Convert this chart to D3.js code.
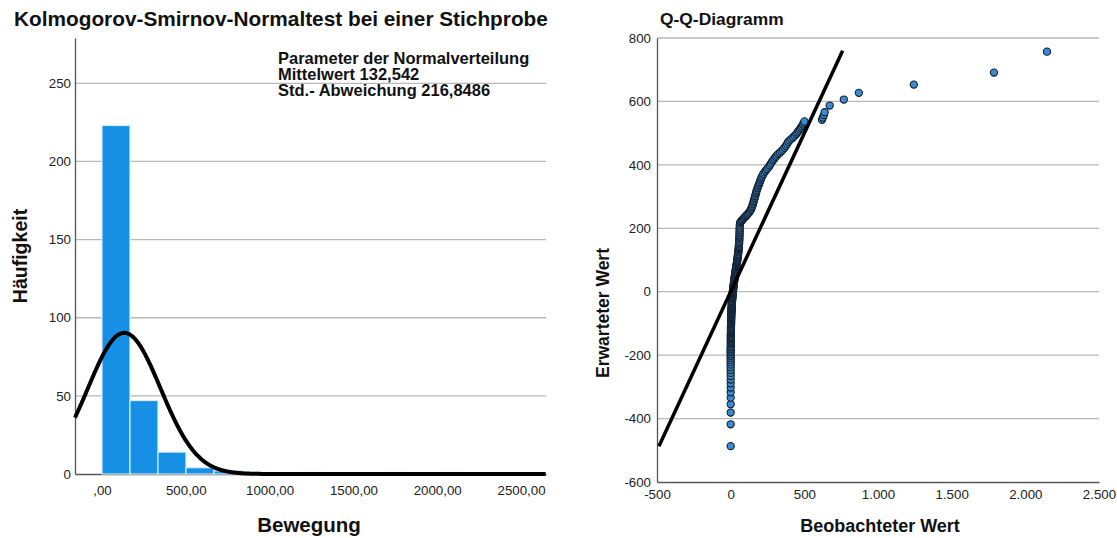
<!DOCTYPE html>
<html>
<head>
<meta charset="utf-8">
<script src="https://cdn.jsdelivr.net/npm/d3@7"></script>
<style>
  body { margin: 0; background: #fff; }
  text { font-family: "Liberation Sans", Arial, sans-serif; fill: #222; }
  .axis path { stroke: #555; stroke-width: 1.3; }
  .axis text { font-size: 13.3px; }
  .title { font-weight: bold; fill: #111; }
</style>
</head>
<body>
<script>
var w = 1117;
var h = 538;

// histogram (Bewegung)
var histCounts = [223, 47, 14, 4, 2, 1, 0, 1, 0, 0, 1, 0, 1];
var binStart = 0;
var binWidth = 167;
var histMean = 132.542;
var histSd = 216.8486;
var histTicksX = [0, 500, 1000, 1500, 2000, 2500];
var histTicksY = [0, 50, 100, 150, 200, 250];

// Q-Q points: observed value (x) and expected normal value (y)
var qqObserved = [
  0, 0, 0, 0, 0, 0, 0, 0, 0, 0, 0, 0, 0, 0, 0, 0, 0, 0, 0, 0, 0, 0, 0,
  1, 1, 1, 1, 1, 1, 1, 1, 1, 1, 2, 2, 2, 2, 2, 2, 2, 2, 3, 3, 3, 3, 3, 3,
  4, 4, 4, 4, 4, 5, 5, 5, 5, 6, 6, 6, 6, 7, 7, 7, 8, 8, 8, 9, 9, 10, 10,
  11, 11, 12, 12, 13, 13, 14, 14, 15, 15, 16, 17, 17, 18, 19, 19, 20, 21,
  21, 22, 23, 23, 24, 25, 26, 26, 27, 28, 29, 30, 30, 31, 32, 33, 34, 35,
  36, 37, 38, 39, 40, 41, 42, 43, 44, 45, 46, 47, 47, 48, 49, 50, 51, 52,
  52, 53, 54, 55, 55, 56, 57, 57, 58, 58, 59, 59, 60, 60, 60, 61, 61, 61,
  62, 62,
  64, 68, 73, 78, 84, 90, 96, 102, 108, 114, 120, 126, 131, 136, 140, 144,
  148, 151, 154, 157, 160, 163, 166, 169, 172, 175, 178, 182, 186, 190,
  194, 198, 202, 206, 210,
  216, 222, 230, 238, 247, 256, 265, 273, 281, 289, 297, 305, 312, 322,
  333, 344, 355, 365, 375, 383, 390, 400, 412, 424, 435, 445, 453, 461,
  469, 477, 484, 490, 496, 501,
  620, 625, 633, 638, 672, 768, 870, 1243, 1787, 2147
];
var qqExpected = [
  -487, -418, -381, -355, -334, -317, -302, -289, -277, -266, -256, -247,
  -238, -230, -223, -216, -209, -203, -197, -191, -186, -181, -176,
  -171, -166, -162, -158, -154, -150, -146, -142, -138, -134, -130, -127,
  -124, -120, -117, -114, -110, -107, -104, -101, -98, -95, -92, -89,
  -86, -83, -80, -77, -74, -71, -68, -65, -63, -60, -57, -54, -52, -49,
  -46, -44, -41, -38, -36, -33, -30, -28, -25,
  -22, -20, -17, -14, -12, -9, -7, -4, -1, 1, 4, 6, 9, 12, 14, 17, 19, 22,
  24, 27, 30, 32, 35, 37, 40, 43, 45, 48, 51, 53, 56, 59, 61, 64, 67, 70,
  72, 75, 78, 81, 84, 87, 90, 93, 96, 99, 102, 105, 108, 111, 114, 117,
  120, 124, 127, 131, 134, 138, 141, 145, 149, 153, 157, 161, 165, 170,
  174, 179, 184, 189, 194, 199, 205, 211,
  217, 220, 223, 226, 229, 232, 235, 238, 241, 244, 247, 250, 254, 258,
  262, 266, 271, 276, 281, 286, 291, 296, 301, 306, 311, 316, 321, 326,
  331, 336, 341, 346, 351, 356, 361,
  366, 371, 377, 382, 387, 392, 398, 404, 410, 415, 420, 425, 429, 434,
  438, 443, 448, 454, 460, 466, 472, 477, 482, 487, 492, 497, 502, 507,
  512, 517, 522, 527, 532, 537,
  542, 549, 557, 566, 587, 606, 627, 653, 691, 757
];
var qqLineEnds = [-487, 760];
var qqTicksX = [-500, 0, 500, 1000, 1500, 2000, 2500];
var qqTicksY = [-600, -400, -200, 0, 200, 400, 600, 800];

var de = d3.formatLocale({ decimal: ",", thousands: ".", grouping: [3], currency: ["", " €"], minus: "-" });
var fmt2 = de.format(".2f");
var fmtGroup = de.format(",");
var fmtInt = de.format("d");

var svg = d3.select("body")
  .append("svg")
  .attr("width", w)
  .attr("height", h);

// ---------- left: histogram ----------
var xL = d3.scaleLinear().domain([-161, 2649]).range([75, 546]);
var yL = d3.scaleLinear().domain([0, 279]).range([474, 38]);

svg.append("g")
  .selectAll("line")
  .data(histTicksY.filter(function(d) { return d > 0; }))
  .enter()
  .append("line")
  .attr("x1", 75)
  .attr("x2", 546)
  .attr("y1", function(d) { return yL(d); })
  .attr("y2", function(d) { return yL(d); })
  .attr("stroke", "#b9b9b9")
  .attr("stroke-width", 1.3);

svg.append("g")
  .attr("class", "axis")
  .attr("transform", "translate(75,0)")
  .call(d3.axisLeft(yL).tickValues(histTicksY).tickSize(0).tickPadding(4).tickSizeOuter(0));

svg.append("g")
  .attr("class", "axis")
  .attr("transform", "translate(0,474)")
  .call(d3.axisBottom(xL).tickValues(histTicksX).tickSize(0).tickPadding(12).tickSizeOuter(0)
    .tickFormat(function(d) { return d === 0 ? ",00" : fmt2(d); }));

svg.selectAll(".bar")
  .data(histCounts)
  .enter()
  .append("rect")
  .attr("class", "bar")
  .attr("x", function(d, i) { return xL(binStart + i * binWidth); })
  .attr("y", function(d) { return yL(d); })
  .attr("width", xL(binWidth) - xL(0))
  .attr("height", function(d) { return yL(0) - yL(d); })
  .attr("fill", "#1690e4")
  .attr("stroke", "#d4eafa")
  .attr("stroke-width", 1.2);

var total = d3.sum(histCounts);
var curveX = d3.range(-161, 2650, 4);
var normal = d3.line()
  .x(function(d) { return xL(d); })
  .y(function(d) {
    var z = (d - histMean) / histSd;
    return yL(total * binWidth * Math.exp(-0.5 * z * z) / (histSd * Math.sqrt(2 * Math.PI)));
  })
  .curve(d3.curveBasis);

svg.append("path")
  .datum(curveX)
  .attr("d", normal)
  .attr("fill", "none")
  .attr("stroke", "#000")
  .attr("stroke-width", 4)
  .attr("stroke-linecap", "butt");

svg.append("text")
  .attr("class", "title")
  .attr("x", 14)
  .attr("y", 26)
  .style("font-size", "20.8px")
  .text("Kolmogorov-Smirnov-Normaltest bei einer Stichprobe");

var note = ["Parameter der Normalverteilung", "Mittelwert 132,542", "Std.- Abweichung 216,8486"];
svg.append("g")
  .selectAll("text")
  .data(note)
  .enter()
  .append("text")
  .attr("class", "title")
  .attr("x", 278)
  .attr("y", function(d, i) { return 64 + i * 16; })
  .style("font-size", "16.5px")
  .text(function(d) { return d; });

svg.append("text")
  .attr("class", "title")
  .attr("transform", "translate(27,256) rotate(-90)")
  .style("text-anchor", "middle")
  .style("font-size", "19.5px")
  .text("Häufigkeit");

svg.append("text")
  .attr("class", "title")
  .attr("x", 309)
  .attr("y", 532)
  .style("text-anchor", "middle")
  .style("font-size", "20.5px")
  .text("Bewegung");

// ---------- right: Q-Q plot ----------
var xR = d3.scaleLinear().domain([-500, 2500]).range([657, 1099]);
var yR = d3.scaleLinear().domain([-600, 800]).range([482, 38]);

svg.append("g")
  .selectAll("line")
  .data(qqTicksY.filter(function(d) { return d > -600; }))
  .enter()
  .append("line")
  .attr("x1", 657)
  .attr("x2", 1099)
  .attr("y1", function(d) { return yR(d); })
  .attr("y2", function(d) { return yR(d); })
  .attr("stroke", "#b9b9b9")
  .attr("stroke-width", 1.3);

svg.append("g")
  .attr("class", "axis")
  .attr("transform", "translate(657,0)")
  .call(d3.axisLeft(yR).tickValues(qqTicksY).tickSize(0).tickPadding(6).tickSizeOuter(0)
    .tickFormat(fmtInt));

svg.append("g")
  .attr("class", "axis")
  .attr("transform", "translate(0,482)")
  .call(d3.axisBottom(xR).tickValues(qqTicksX).tickSize(0).tickPadding(8).tickSizeOuter(0)
    .tickFormat(fmtGroup));

svg.append("g")
  .selectAll("circle")
  .data(qqObserved)
  .enter()
  .append("circle")
  .attr("cx", function(d) { return xR(d); })
  .attr("cy", function(d, i) { return yR(qqExpected[i]); })
  .attr("r", 3.6)
  .attr("fill", "#3a8bd2")
  .attr("stroke", "#14202e")
  .attr("stroke-width", 1.1);

svg.append("line")
  .attr("x1", xR(qqLineEnds[0]))
  .attr("y1", yR(qqLineEnds[0]))
  .attr("x2", xR(qqLineEnds[1]))
  .attr("y2", yR(qqLineEnds[1]))
  .attr("stroke", "#000")
  .attr("stroke-width", 3.5);

svg.append("text")
  .attr("class", "title")
  .attr("x", 660)
  .attr("y", 25)
  .style("font-size", "17.4px")
  .text("Q-Q-Diagramm");

svg.append("text")
  .attr("class", "title")
  .attr("transform", "translate(609,313) rotate(-90)")
  .style("text-anchor", "middle")
  .style("font-size", "17.5px")
  .text("Erwarteter Wert");

svg.append("text")
  .attr("class", "title")
  .attr("x", 880)
  .attr("y", 532)
  .style("text-anchor", "middle")
  .style("font-size", "18px")
  .text("Beobachteter Wert");
</script>
</body>
</html>
